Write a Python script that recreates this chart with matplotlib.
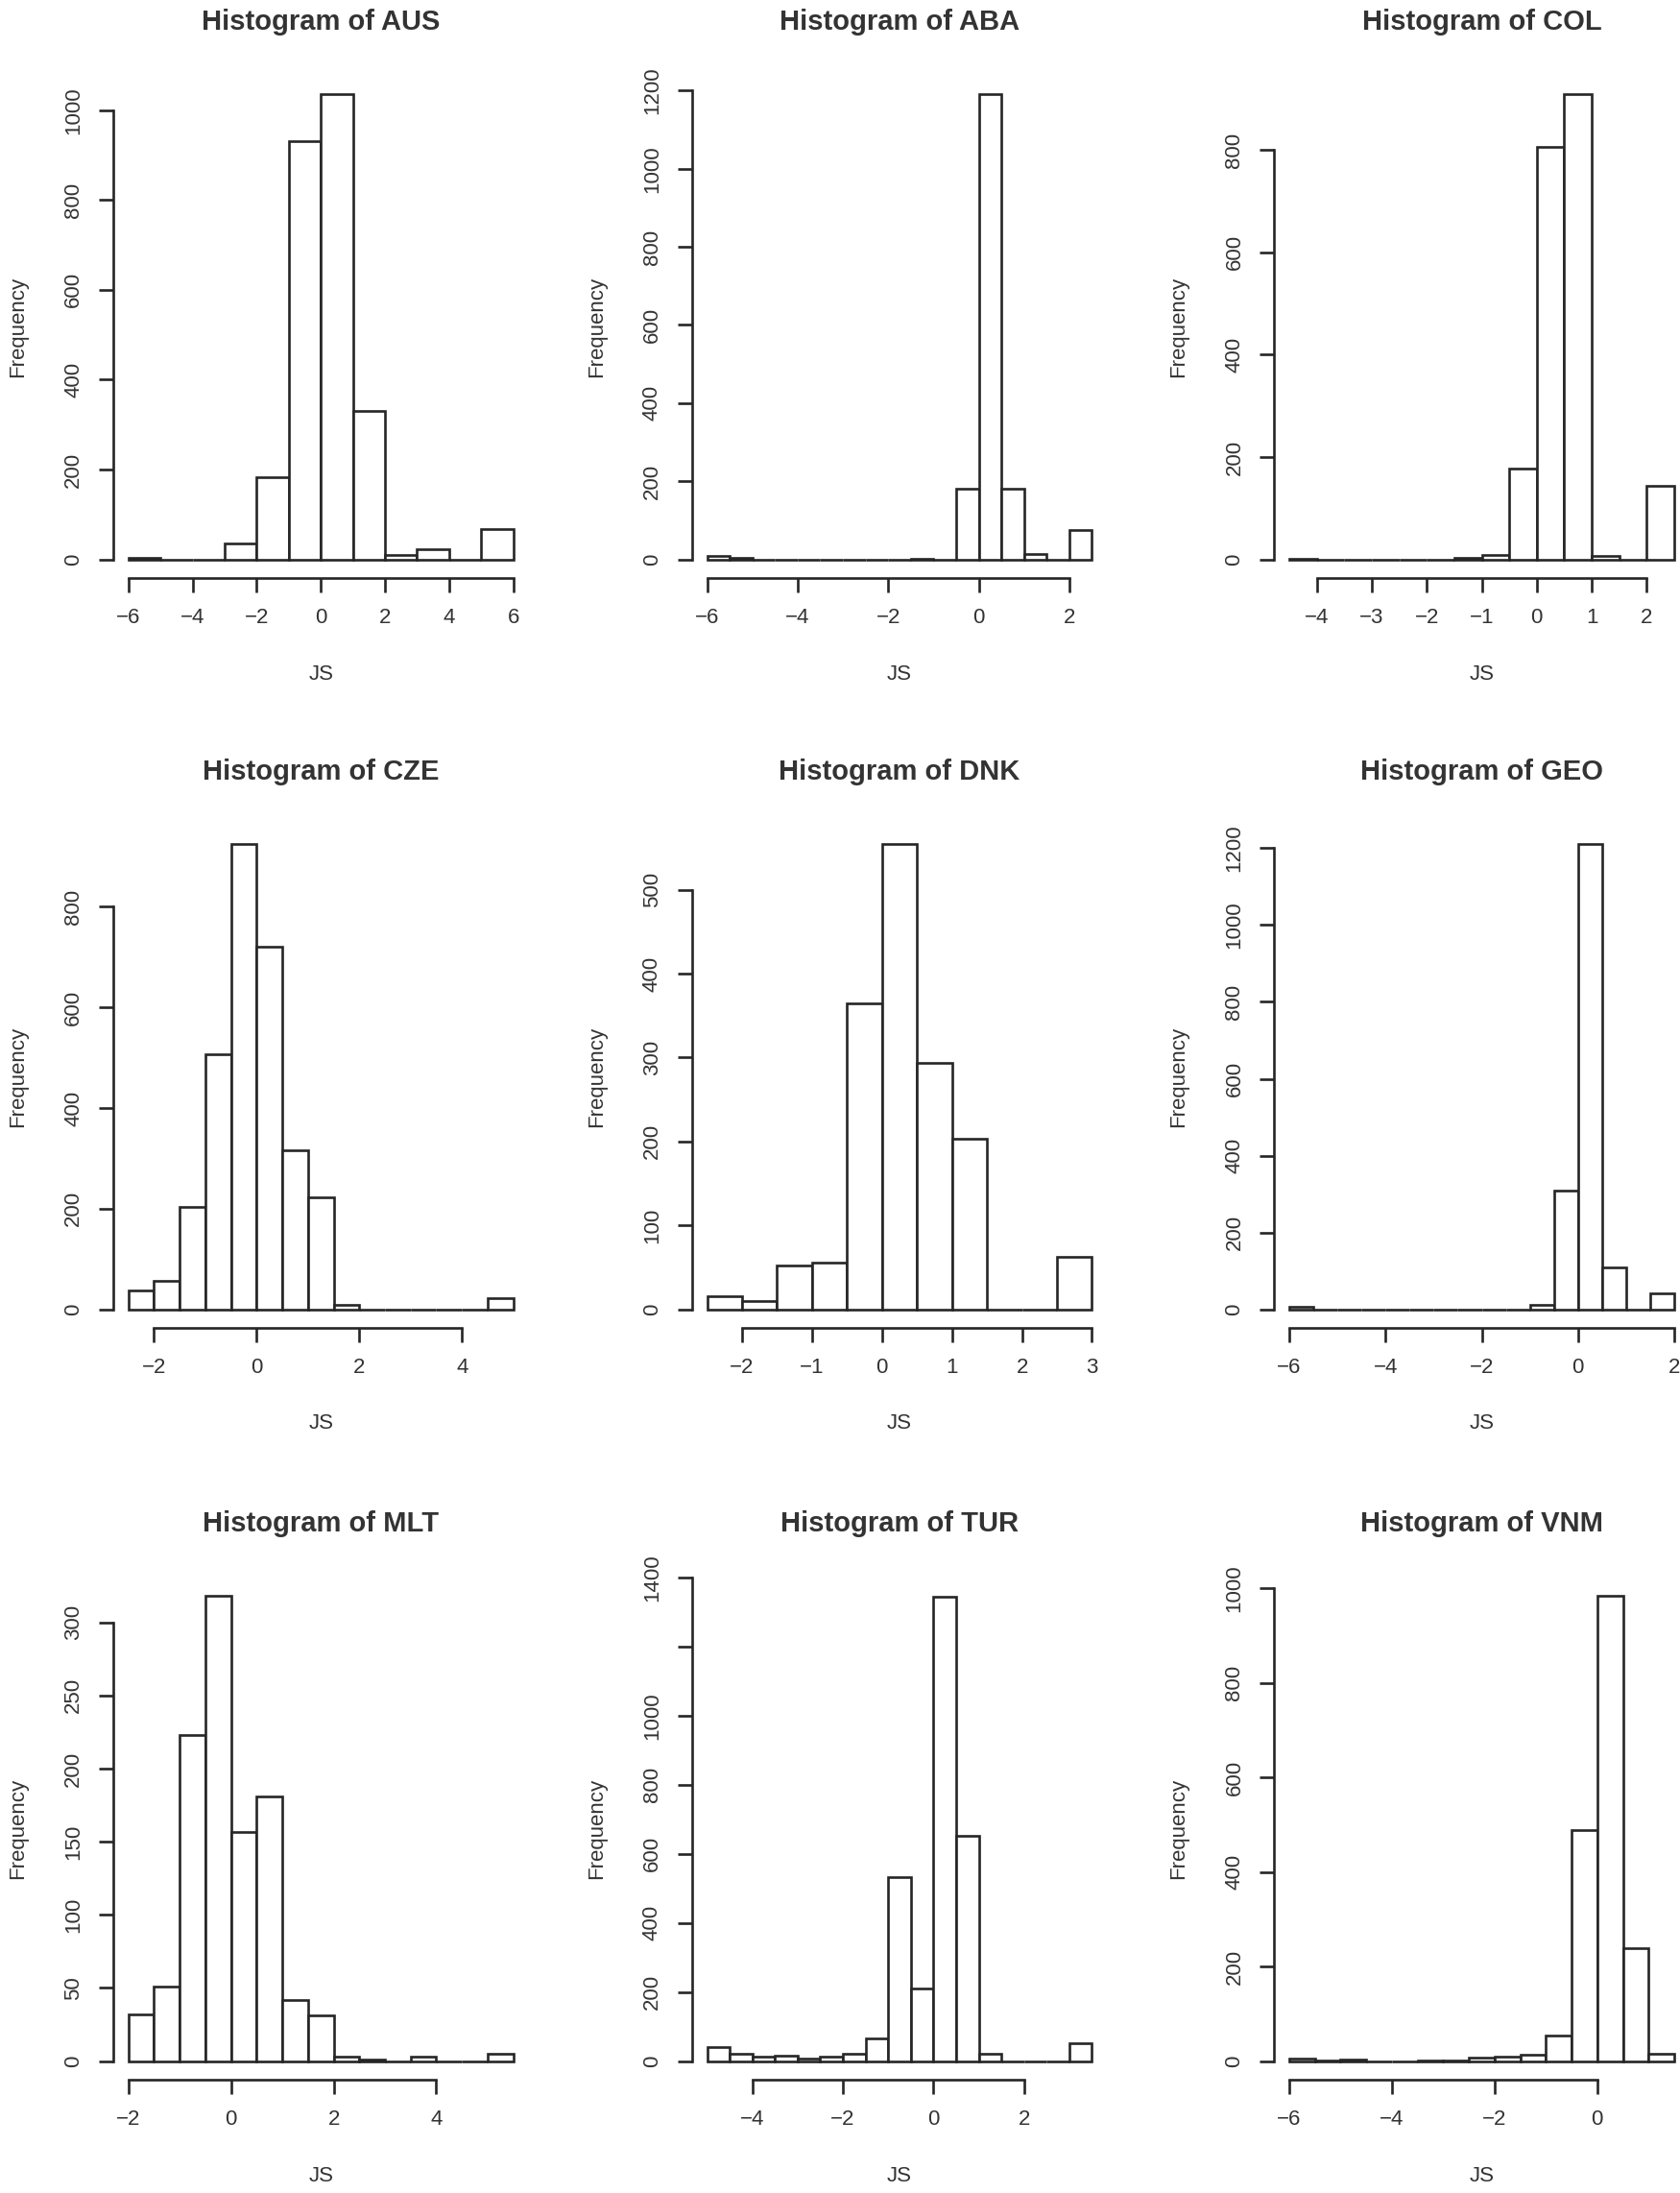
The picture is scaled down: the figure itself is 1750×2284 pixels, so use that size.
import matplotlib.pyplot as plt
import numpy as np

plt.rcParams['font.family'] = ['Liberation Sans', 'DejaVu Sans']

INK = '#262626'
TXT = '#333333'
LW = 1.9

# counts per bin; bins are (first break, width)
aus_start, aus_width = -6.0, 1.0
aus_counts = [3, 0, 0, 35, 182, 930, 1035, 330, 10, 22, 0, 68]
aus_xticks = [-6, -4, -2, 0, 2, 4, 6]
aus_yticks = [0, 200, 400, 600, 800, 1000]

aba_start, aba_width = -6.0, 0.5
aba_counts = [8, 3, 0, 0, 0, 0, 0, 0, 0, 2, 0, 182, 1190, 182, 15, 0, 75]
aba_xticks = [-6, -4, -2, 0, 2]
aba_yticks = [0, 200, 400, 600, 800, 1000, 1200]

col_start, col_width = -4.5, 0.5
col_counts = [2, 0, 0, 0, 0, 0, 3, 8, 178, 805, 908, 7, 0, 143]
col_xticks = [-4, -3, -2, -1, 0, 1, 2]
col_yticks = [0, 200, 400, 600, 800]

cze_start, cze_width = -2.5, 0.5
cze_counts = [38, 56, 204, 507, 924, 721, 316, 222, 8, 0, 0, 0, 0, 0, 23]
cze_xticks = [-2, 0, 2, 4]
cze_yticks = [0, 200, 400, 600, 800]

dnk_start, dnk_width = -2.5, 0.5
dnk_counts = [16, 10, 52, 56, 364, 554, 294, 203, 0, 0, 62]
dnk_xticks = [-2, -1, 0, 1, 2, 3]
dnk_yticks = [0, 100, 200, 300, 400, 500]

geo_start, geo_width = -6.0, 0.5
geo_counts = [7, 0, 0, 0, 0, 0, 0, 0, 0, 0, 12, 309, 1210, 109, 0, 42]
geo_xticks = [-6, -4, -2, 0, 2]
geo_yticks = [0, 200, 400, 600, 800, 1000, 1200]

mlt_start, mlt_width = -2.0, 0.5
mlt_counts = [32, 51, 223, 318, 157, 181, 42, 31, 3, 1, 0, 3, 0, 0, 5]
mlt_xticks = [-2, 0, 2, 4]
mlt_yticks = [0, 50, 100, 150, 200, 250, 300]

tur_start, tur_width = -5.0, 0.5
tur_counts = [40, 21, 12, 15, 6, 12, 20, 65, 534, 211, 1345, 651, 20, 0, 0, 0, 52]
tur_xticks = [-4, -2, 0, 2]
tur_yticks = [0, 200, 400, 600, 800, 1000, 1200, 1400]

vnm_start, vnm_width = -6.0, 0.5
vnm_counts = [5, 1, 3, 0, 0, 1, 1, 8, 10, 13, 55, 489, 983, 238, 15]
vnm_xticks = [-6, -4, -2, 0]
vnm_yticks = [0, 200, 400, 600, 800, 1000]

panels = [
    ('AUS', aus_start, aus_width, aus_counts, aus_xticks, aus_yticks),
    ('ABA', aba_start, aba_width, aba_counts, aba_xticks, aba_yticks),
    ('COL', col_start, col_width, col_counts, col_xticks, col_yticks),
    ('CZE', cze_start, cze_width, cze_counts, cze_xticks, cze_yticks),
    ('DNK', dnk_start, dnk_width, dnk_counts, dnk_xticks, dnk_yticks),
    ('GEO', geo_start, geo_width, geo_counts, geo_xticks, geo_yticks),
    ('MLT', mlt_start, mlt_width, mlt_counts, mlt_xticks, mlt_yticks),
    ('TUR', tur_start, tur_width, tur_counts, tur_xticks, tur_yticks),
    ('VNM', vnm_start, vnm_width, vnm_counts, vnm_xticks, vnm_yticks),
]
# R drops y labels that would overlap
hidden_ylabels = {'TUR': [1200]}

W, H = 1750, 2284
col_left = [117.7, 720.5, 1327]
row_top = [79, 860, 1643]
pw, ph = 433, 523


def fmt(v):
    return str(v).replace('-', '\u2212')


def draw_hist(ax, name, start, width, counts, xticks, yticks):
    counts = np.array(counts, dtype=float)
    edges = start + width * np.arange(len(counts) + 1)
    ax.bar(edges[:-1], counts, width=width, align='edge', color='white',
           edgecolor=INK, linewidth=LW, clip_on=False)

    rx = edges[-1] - edges[0]
    ax.set_xlim(edges[0] - 0.04 * rx, edges[-1] + 0.04 * rx)
    ax.set_ylim(-0.04 * counts.max(), 1.04 * counts.max())

    for s in ['top', 'right']:
        ax.spines[s].set_visible(False)
    for s in ['left', 'bottom']:
        ax.spines[s].set_linewidth(LW)
        ax.spines[s].set_color(INK)
    ax.spines['bottom'].set_bounds(xticks[0], xticks[-1])
    ax.spines['left'].set_bounds(yticks[0], yticks[-1])

    ylabs = ['' if t in hidden_ylabels.get(name, []) else fmt(t) for t in yticks]
    ax.set_xticks(xticks, [fmt(t) for t in xticks])
    ax.set_yticks(yticks, ylabs, rotation=90, va='center')
    ax.tick_params(axis='both', direction='out', length=11, width=LW,
                   color=INK, labelcolor=TXT, labelsize=16, pad=11)

    ax.set_title('Histogram of ' + name, fontsize=21, fontweight='bold',
                 color=TXT, y=1 + 56 / ph, pad=0, va='center')
    ax.set_xlabel('JS', fontsize=16, color=TXT, va='center')
    ax.set_ylabel('Frequency', fontsize=16, color=TXT, va='center')
    ax.xaxis.set_label_coords(0.5, -100 / ph)
    ax.yaxis.set_label_coords(-99 / pw, 0.5)


fig = plt.figure(figsize=(W / 100, H / 100), dpi=100)
for i, (name, start, width, counts, xt, yt) in enumerate(panels):
    r, c = divmod(i, 3)
    ax = fig.add_axes([col_left[c] / W, 1 - (row_top[r] + ph) / H, pw / W, ph / H])
    ax.patch.set_alpha(0)
    draw_hist(ax, name, start, width, counts, xt, yt)

fig.savefig('out.png', dpi=100)
